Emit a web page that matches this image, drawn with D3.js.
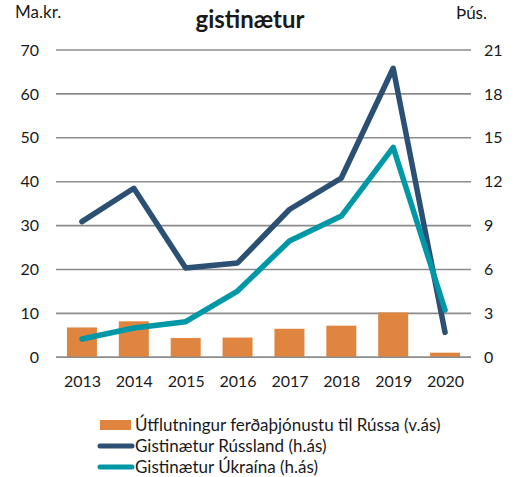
<!DOCTYPE html>
<html><head><meta charset="utf-8">
<script src="https://cdn.jsdelivr.net/npm/d3@7"></script>
<style>body{margin:0;background:#fff}svg{display:block}text{font-family:Lato,"Open Sans",sans-serif;fill:#1a1a1a}</style>
</head><body><svg id="c" width="520" height="477"></svg>
<script>
const years = ["2013","2014","2015","2016","2017","2018","2019","2020"];
const exportsRussia = [6.8, 8.2, 4.4, 4.5, 6.5, 7.2, 10.2, 1.05];
const nightsRussia = [9.27, 11.55, 6.1, 6.45, 10.1, 12.25, 19.75, 1.7];
const nightsUkraine = [1.25, 2.0, 2.43, 4.53, 7.95, 9.65, 14.35, 3.23];
const leftTicks = [0,10,20,30,40,50,60,70];
const rightTicks = [0,3,6,9,12,15,18,21];
const titleLines = ["Útflutningur ferðaþjónustu og", "gistinætur"];
const legendLabels = ["Útflutningur ferðaþjónustu til Rússa (v.ás)", "Gistinætur Rússland (h.ás)", "Gistinætur Úkraína (h.ás)"];
const colors = {bar:"#E0853F", ru:"#2C5073", ua:"#0098A7", grid:"#8C8C8C"};

const svg = d3.select("#c");
const L = 56, R = 471, T = 50, B = 357.3;
const xc = d3.scalePoint().domain(years).range([L, R]).padding(0.5);
const yL = d3.scaleLinear().domain([0,70]).range([B, T]);
const yR = d3.scaleLinear().domain([0,21]).range([B, T]);

svg.append("g").selectAll("line").data(leftTicks).join("line")
  .attr("x1", L).attr("x2", R).attr("y1", d=>yL(d)).attr("y2", d=>yL(d))
  .attr("stroke", colors.grid).attr("stroke-width", 1.6);

const styleAxis = g => { g.select(".domain").remove();
  g.selectAll("text").style("font-size","16px").attr("fill","#1a1a1a").style("font-family","Lato"); };

svg.append("g").attr("transform", `translate(${L},0)`)
  .call(d3.axisLeft(yL).tickValues(leftTicks).tickSize(0).tickPadding(17)).call(styleAxis);
svg.append("g").attr("transform", `translate(${R},0)`)
  .call(d3.axisRight(yR).tickValues(rightTicks).tickSize(0).tickPadding(13)).call(styleAxis);
svg.append("g").attr("transform", `translate(0,${B})`)
  .call(d3.axisBottom(xc).tickSize(0).tickPadding(18)).call(styleAxis);

svg.append("g").selectAll("rect").data(exportsRussia).join("rect")
  .attr("x", (d,i)=>xc(years[i]) - 15).attr("width", 30)
  .attr("y", d=>yL(d)).attr("height", d=>B - yL(d))
  .attr("fill", colors.bar);

svg.append("line").attr("x1",L).attr("x2",R).attr("y1",yL(0)).attr("y2",yL(0))
  .attr("stroke",colors.grid).attr("stroke-width",1.6);

const line = d3.line().x((d,i)=>xc(years[i])).y(d=>yR(d));
svg.append("path").datum(nightsRussia).attr("d", line).attr("fill","none")
  .attr("stroke", colors.ru).attr("stroke-width", 5.5).attr("stroke-linejoin","round").attr("stroke-linecap","round");
svg.append("path").datum(nightsUkraine).attr("d", line).attr("fill","none")
  .attr("stroke", colors.ua).attr("stroke-width", 5.5).attr("stroke-linejoin","round").attr("stroke-linecap","round");

svg.append("text").attr("x", 92).attr("y", -4)
  .style("font-size","24px").style("font-weight","bold").text(titleLines[0]);
svg.append("text").attr("x", 250).attr("y", 28).attr("text-anchor","middle")
  .style("font-size","24px").style("font-weight","bold").text(titleLines[1]);
svg.append("text").attr("x", 15).attr("y", 18).style("font-size","17px").text("Ma.kr.");
svg.append("text").attr("x", 456).attr("y", 19).style("font-size","17px").text("Þús.");

const lg = svg.append("g");
lg.append("rect").attr("x",100).attr("y",420).attr("width",31).attr("height",10).attr("fill",colors.bar);
lg.append("line").attr("x1",100).attr("x2",132).attr("y1",446).attr("y2",446).attr("stroke",colors.ru).attr("stroke-width",5).attr("stroke-linecap","round");
lg.append("line").attr("x1",100).attr("x2",132).attr("y1",467).attr("y2",467).attr("stroke",colors.ua).attr("stroke-width",5).attr("stroke-linecap","round");
lg.selectAll("text").data(legendLabels).join("text")
  .attr("x",135).attr("y",(d,i)=>431 + i*21).style("font-size","17px").text(d=>d);
</script></body></html>
